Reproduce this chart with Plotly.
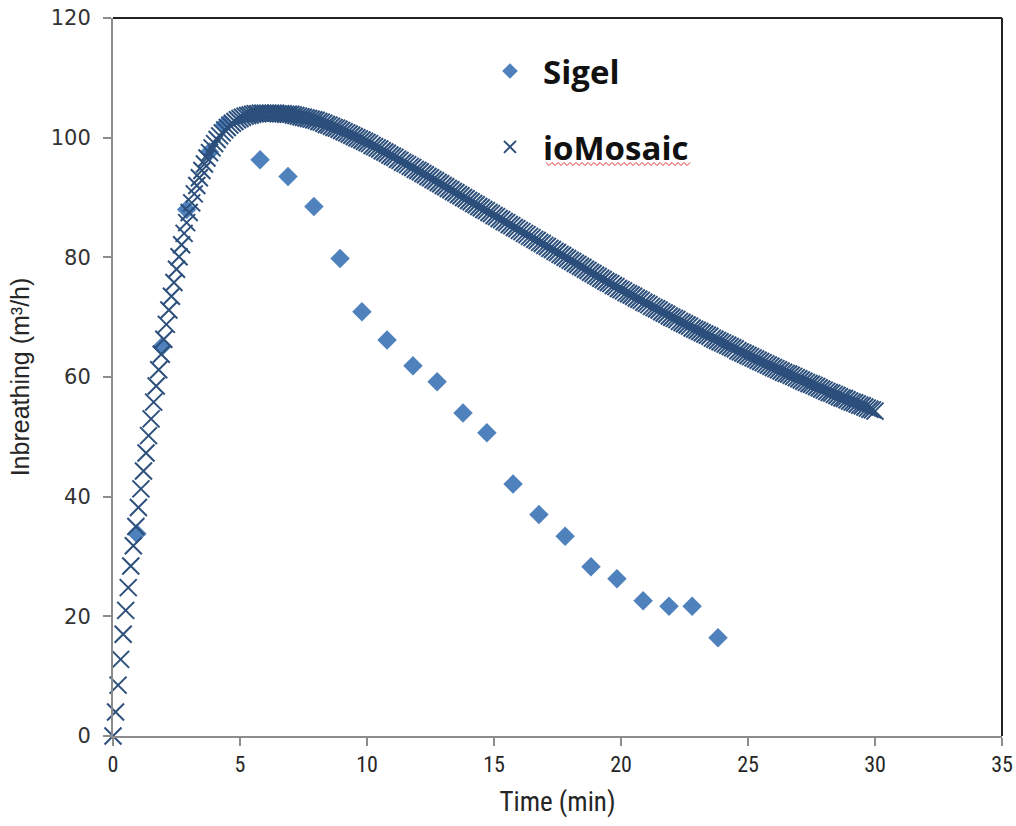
import plotly.graph_objects as go

# ---------------- data ----------------
sigel_time = [0.94, 1.93, 2.9, 3.8, 4.4, 5.79, 6.89, 7.91, 8.94, 9.8, 10.79, 11.81,
              12.76, 13.78, 14.72, 15.75, 16.77, 17.8, 18.82, 19.84, 20.87, 21.89,
              22.8, 23.82]
sigel_inbreathing = [33.8, 65.1, 88.0, 97.6, 102.2, 96.3, 93.5, 88.5, 79.8, 70.9, 66.2,
                     61.9, 59.2, 54.0, 50.7, 42.1, 37.0, 33.4, 28.3, 26.3, 22.6, 21.7,
                     21.7, 16.4]

iomosaic_inbreathing = [
    # 0.0 - 0.9
    0, 4, 8.5, 12.8, 17, 21, 24.8, 28.4, 31.8, 35,
    # 1.0 - 1.9
    38.2, 41.3, 44.3, 47.3, 50.2, 53, 55.8, 58.5, 61.2, 63.8,
    # 2.0 - 2.9
    66.3, 68.8, 71.2, 73.5, 75.8, 78, 80.1, 82.1, 84, 85.8,
    # 3.0 - 3.9
    87.5, 89.1, 90.6, 92, 93.3, 94.5, 95.6, 96.6, 97.5, 98.3,
    # 4.0 - 4.9
    99, 99.7, 100.3, 100.8, 101.3, 101.7, 102.1, 102.4, 102.7, 103,
    # 5.0 - 5.9
    103.2, 103.4, 103.6, 103.7, 103.8, 103.9, 104.0, 104.0, 104.1, 104.1,
    # 6.0 - 6.9
    104.1, 104.1, 104.1, 104.1, 104.1, 104.0, 104.0, 104.0, 103.9, 103.9,
    # 7.0 - 7.9
    103.9, 103.8, 103.7, 103.6, 103.5, 103.4, 103.3, 103.2, 103.1, 103.0,
    # 8.0 - 8.9
    102.9, 102.7, 102.6, 102.4, 102.2, 102.1, 101.9, 101.7, 101.6, 101.4,
    # 9.0 - 9.9
    101.2, 101.0, 100.8, 100.6, 100.4, 100.2, 100.0, 99.8, 99.6, 99.4,
    # 10 - 10.9
    99.2, 99.0, 98.7, 98.5, 98.3, 98.1, 97.8, 97.6, 97.4, 97.1,
    # 11 - 11.9
    96.9, 96.7, 96.4, 96.2, 95.9, 95.7, 95.5, 95.2, 95.0, 94.7,
    # 12 - 12.9
    94.5, 94.3, 94.0, 93.8, 93.5, 93.3, 93.0, 92.8, 92.5, 92.3,
    # 13 - 13.9
    92.0, 91.8, 91.5, 91.3, 91.0, 90.8, 90.5, 90.3, 90.0, 89.8,
    # 14 - 14.9
    89.5, 89.3, 89.0, 88.8, 88.5, 88.3, 88.0, 87.8, 87.5, 87.3,
    # 15 - 15.9
    87.0, 86.8, 86.5, 86.3, 86.0, 85.8, 85.5, 85.3, 85.0, 84.8,
    # 16 - 16.9
    84.5, 84.3, 84.0, 83.8, 83.5, 83.3, 83.0, 82.8, 82.5, 82.3,
    # 17 - 17.9
    82.0, 81.8, 81.5, 81.3, 81.0, 80.8, 80.5, 80.3, 80.0, 79.8,
    # 18 - 18.9
    79.5, 79.3, 79.0, 78.8, 78.5, 78.3, 78.0, 77.8, 77.5, 77.3,
    # 19 - 19.9
    77.0, 76.8, 76.5, 76.3, 76.0, 75.8, 75.6, 75.3, 75.1, 74.8,
    # 20 - 20.9
    74.6, 74.4, 74.1, 73.9, 73.7, 73.5, 73.2, 73.0, 72.8, 72.5,
    # 21 - 21.9
    72.3, 72.1, 71.8, 71.6, 71.4, 71.2, 70.9, 70.7, 70.5, 70.2,
    # 22 - 22.9
    70.0, 69.8, 69.6, 69.3, 69.1, 68.9, 68.7, 68.5, 68.2, 68.0,
    # 23 - 23.9
    67.8, 67.6, 67.4, 67.2, 67.0, 66.8, 66.5, 66.3, 66.1, 65.9,
    # 24 - 24.9
    65.7, 65.5, 65.3, 65.1, 64.9, 64.7, 64.4, 64.2, 64.0, 63.8,
    # 25 - 25.9
    63.6, 63.4, 63.2, 63.0, 62.8, 62.6, 62.4, 62.2, 62.0, 61.8,
    # 26 - 26.9
    61.6, 61.4, 61.2, 61.0, 60.8, 60.6, 60.5, 60.3, 60.1, 59.9,
    # 27 - 27.9
    59.7, 59.5, 59.3, 59.1, 58.9, 58.8, 58.6, 58.4, 58.2, 58.0,
    # 28 - 28.9
    57.8, 57.6, 57.4, 57.3, 57.1, 56.9, 56.7, 56.5, 56.4, 56.2,
    # 29 - 29.9
    56.0, 55.8, 55.7, 55.5, 55.3, 55.2, 55.0, 54.8, 54.6, 54.5,
    # 30.0
    54.3,
]
iomosaic_step_min = 0.1
iomosaic_time = [round(i * iomosaic_step_min, 1) for i in range(len(iomosaic_inbreathing))]

x_ticks = [0, 5, 10, 15, 20, 25, 30, 35]
y_ticks = [0, 20, 40, 60, 80, 100, 120]

# ---------------- figure ----------------
fig = go.Figure()

fig.add_trace(go.Scatter(
    x=sigel_time, y=sigel_inbreathing, mode="markers", name="Sigel",
    legendgroup="a",
    marker=dict(symbol="diamond", size=15, color="#4F81BD", line=dict(width=0)),
    cliponaxis=False,
))
fig.add_trace(go.Scatter(
    x=iomosaic_time, y=iomosaic_inbreathing, mode="markers", name="ioMosaic",
    legendgroup="b",
    marker=dict(symbol="x-thin", size=17, color="#2C4F7C",
                line=dict(width=2, color="#2C4F7C")),
    cliponaxis=False,
))

L, R, T, B = 113, 14, 18, 90
W, H = 1016, 826
pw, ph = W - L - R, H - T - B

def px_to_paper(px, py):
    return (px - L) / pw, (H - B - py) / ph

# red spell-check squiggle under "ioMosaic"
x0, x1, yb = 546, 692, 164
pts = []
k = 0
xx = x0
while xx <= x1:
    yy = yb + (1.5 if k % 2 else -1.5)
    pts.append(px_to_paper(xx, yy))
    xx += 3
    k += 1
path = "M " + " L ".join(f"{a:.5f},{b:.5f}" for a, b in pts)

axis_font = dict(family="Liberation Sans Narrow, Roboto Condensed, DejaVu Sans Condensed, sans-serif",
                 size=22, color="#262626")

fig.update_layout(
    width=W, height=H,
    margin=dict(l=L, r=R, t=T, b=B),
    paper_bgcolor="white", plot_bgcolor="white",
    showlegend=True,
    legend=dict(
        x=px_to_paper(477, 0)[0], y=px_to_paper(0, 43)[1],
        xanchor="left", yanchor="top",
        font=dict(family="Open Sans, Lato, sans-serif", size=33, color="#111111",
                  weight="bold"),
        bgcolor="rgba(0,0,0,0)",
        tracegroupgap=30,
        itemsizing="constant",
        itemwidth=56,
    ),
    xaxis=dict(
        range=[0, 35], tickvals=x_ticks, ticktext=[str(v) for v in x_ticks],
        showgrid=False, zeroline=False, automargin=False,
        showline=True, linecolor="#8c8c8c", linewidth=2,
        ticks="outside", ticklen=8, tickwidth=1.5, tickcolor="#8c8c8c",
        tickfont=axis_font,
        title=dict(text="Time (min)", font=dict(family=axis_font["family"], size=27,
                                                color="#262626"), standoff=16),
    ),
    yaxis=dict(
        range=[0, 120], tickvals=y_ticks, ticktext=[str(v) for v in y_ticks],
        showgrid=False, zeroline=False, automargin=False,
        showline=True, linecolor="#8c8c8c", linewidth=2,
        ticks="outside", ticklen=8, tickwidth=1.5, tickcolor="#8c8c8c",
        tickfont=dict(family="DejaVu Sans, Verdana, sans-serif", size=21, color="#333333"),
        ticklabelstandoff=8,
        title=dict(text="Inbreathing (m³/h)", font=dict(family="Liberation Sans, Arial, sans-serif",
                                                        size=25, color="#262626"), standoff=14),
    ),
    shapes=[
        dict(type="line", xref="paper", yref="paper", x0=0, x1=1, y0=1, y1=1,
             line=dict(color="#222222", width=2)),
        dict(type="line", xref="paper", yref="paper", x0=1, x1=1, y0=0, y1=1,
             line=dict(color="#222222", width=2)),
        dict(type="path", xref="paper", yref="paper", path=path,
             line=dict(color="#e03030", width=1)),
    ],
)

fig.write_html("out.html")
